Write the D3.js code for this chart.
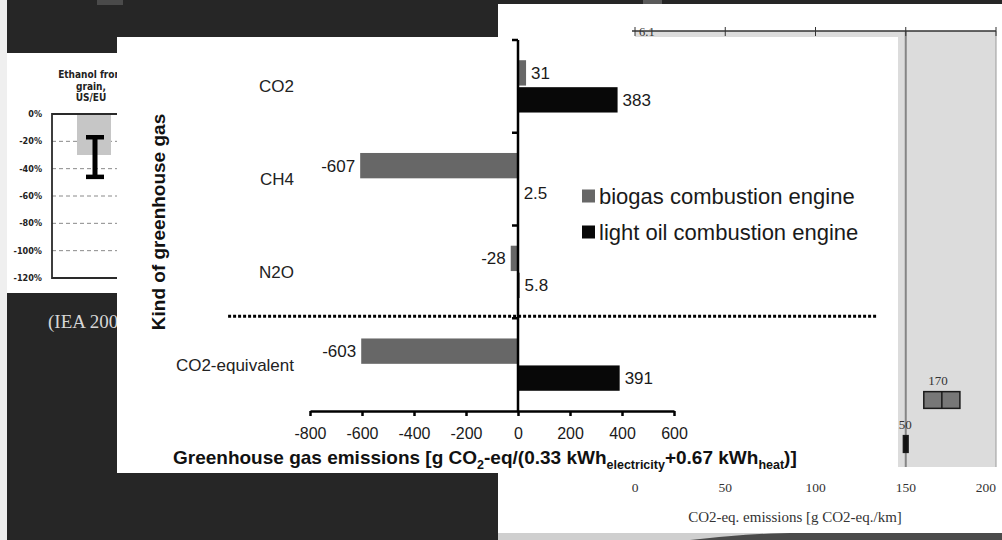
<!DOCTYPE html>
<html><head><meta charset="utf-8">
<script src="https://cdn.jsdelivr.net/npm/d3@7"></script>
<style>html,body{margin:0;padding:0;background:#262626;overflow:hidden}</style>
</head><body>
<svg id="c" width="1002" height="540"></svg>
<script>
// ---------- main chart data ----------
const categories = ["CO2", "CH4", "N2O", "CO2-equivalent"];
const seriesNames = ["biogas combustion engine", "light oil combustion engine"];
const biogasValues = [31, -607, -28, -603];
const lightOilValues = [383, 2.5, 5.8, 391];
const xTickValues = [-800, -600, -400, -200, 0, 200, 400, 600];
const seriesColors = ["#676767", "#080808"];
const separatorExtent = [-1115, 1385];

// ---------- left (IEA) panel data ----------
const ieaCategory = ["Ethanol from grain, US/EU"];
const ieaTitleLines = ["Ethanol from", "grain,", "US/EU"];
const ieaTickValues = [0, -20, -40, -60, -80, -100, -120];
const ieaBarValues = [-30];
const ieaRangeValues = [-17, -46];

// ---------- right panel data ----------
const rightTickValues = [0, 50, 100, 150, 200];
const rightRowIds = ["r1", "r2", "r3", "r4", "r5", "r6", "r7", "r8", "r9", "r10"];
const rightMarkRows = ["r9", "r10"];
const rightMarkLow = [160, 148.7];
const rightMarkHigh = [180, 151.3];
const rightMarkMid = [170, 150];
const rightMarkLabels = ["170", "150"];
const rightMarkFill = ["#777777", "#111111"];
const rightRefValue = [150];

const svg = d3.select("#c");
const SANS = "'Liberation Sans', Arial, sans-serif";
const SERIF = "'Liberation Serif', 'Times New Roman', serif";
const COND = "'DejaVu Sans Condensed', 'DejaVu Sans', sans-serif";

// ---------- background ----------
svg.append("rect").attr("width", 1002).attr("height", 540).attr("fill", "#262626");
svg.append("rect").attr("x", 0).attr("y", 0).attr("width", 7).attr("height", 540).attr("fill", "#efefef");
svg.append("rect").attr("x", 97).attr("y", 0).attr("width", 26).attr("height", 5).attr("fill", "#4a4a4a");
svg.append("rect").attr("x", 643).attr("y", 0).attr("width", 19).attr("height", 4).attr("fill", "#5a5a5a");
svg.append("text").attr("x", 48).attr("y", 328).attr("font-family", SERIF).attr("font-size", 19)
  .attr("fill", "#d6d6d6").text("(IEA 200");

// ---------- right panel ----------
const rp = svg.append("g");
rp.append("rect").attr("x", 498).attr("y", 4).attr("width", 504).attr("height", 536).attr("fill", "#ffffff");
rp.append("rect").attr("x", 498).attr("y", 533).attr("width", 504).attr("height", 7).attr("fill", "#cfcfcf");
rp.append("path").attr("d", "M690,540 C730,536 760,533 800,533 L1002,533 L1002,540 Z").attr("fill", "#4b4b4b");

const rx = d3.scaleLinear().domain([0, 200]).range([635, 996]);
const ry = d3.scaleBand().domain(rightRowIds).range([26, 466]).paddingInner(0.62).paddingOuter(0.31);

rp.append("rect").attr("x", rx(0)).attr("y", 31).attr("width", rx(200) - rx(0)).attr("height", 436).attr("fill", "#dcdcdc");
rp.append("line").attr("x1", rx(200)).attr("x2", rx(200)).attr("y1", 31).attr("y2", 467).attr("stroke", "#9a9a9a").attr("stroke-width", 1);
rp.selectAll("line.ref").data(rightRefValue).join("line").attr("class", "ref")
  .attr("x1", d => rx(d)).attr("x2", d => rx(d)).attr("y1", 31).attr("y2", 467)
  .attr("stroke", "#858585").attr("stroke-width", 2);
// top axis line
rp.append("line").attr("x1", rx(0) - 3).attr("x2", rx(200)).attr("y1", 31).attr("y2", 31).attr("stroke", "#333").attr("stroke-width", 1.3);
rp.selectAll("line.tt").data(rightTickValues).join("line").attr("class", "tt")
  .attr("x1", d => rx(d)).attr("x2", d => rx(d)).attr("y1", 27).attr("y2", 36).attr("stroke", "#333").attr("stroke-width", 1);
rp.append("text").attr("x", rx(0) + 4).attr("y", 36).attr("font-family", SERIF).attr("font-size", 12.5).attr("fill", "#333").text("6.1");
// marks
const rightMarks = rightMarkRows.map((r, i) => ({ r, lo: rightMarkLow[i], hi: rightMarkHigh[i], mid: rightMarkMid[i], label: rightMarkLabels[i], fill: rightMarkFill[i] }));
rp.selectAll("rect.rm").data(rightMarks).join("rect").attr("class", "rm")
  .attr("x", d => rx(d.lo)).attr("width", d => rx(d.hi) - rx(d.lo))
  .attr("y", d => ry(d.r)).attr("height", ry.bandwidth())
  .attr("fill", d => d.fill).attr("stroke", "#1a1a1a").attr("stroke-width", 1.5);
rp.selectAll("line.rmid").data(rightMarks.filter(d => d.hi - d.lo > 5)).join("line").attr("class", "rmid")
  .attr("x1", d => rx(d.mid)).attr("x2", d => rx(d.mid)).attr("y1", d => ry(d.r)).attr("y2", d => ry(d.r) + ry.bandwidth())
  .attr("stroke", "#1a1a1a").attr("stroke-width", 1.5);
rp.selectAll("text.rml").data(rightMarks).join("text").attr("class", "rml")
  .attr("x", d => rx(d.mid) + 6).attr("y", d => ry(d.r) - 7).attr("text-anchor", "end")
  .attr("font-family", SERIF).attr("font-size", 13).attr("fill", "#333").text(d => d.label);
// bottom tick labels
rp.selectAll("text.rt").data(rightTickValues).join("text").attr("class", "rt")
  .attr("x", d => rx(d)).attr("y", 492).attr("text-anchor", (d, i) => i === rightTickValues.length - 1 ? "end" : "middle")
  .attr("font-family", SERIF).attr("font-size", 13.5).attr("fill", "#333").text(d => d);
rp.append("text").attr("x", 795).attr("y", 522).attr("text-anchor", "middle")
  .attr("font-family", SERIF).attr("font-size", 15).attr("fill", "#333").text("CO2-eq. emissions [g CO2-eq./km]");

// ---------- left (IEA) panel ----------
const lp = svg.append("g");
lp.append("rect").attr("x", 7).attr("y", 53).attr("width", 200).attr("height", 240).attr("fill", "#ffffff");
const ly = d3.scaleLinear().domain([0, -120]).range([114, 278]);
const lx = d3.scaleBand().domain(ieaCategory).range([52, 136]).paddingOuter(0.735);
lp.selectAll("line.lg").data(ieaTickValues.slice(1, -1)).join("line").attr("class", "lg")
  .attr("x1", 52).attr("x2", 140).attr("y1", d => ly(d)).attr("y2", d => ly(d))
  .attr("stroke", "#8a8a8a").attr("stroke-width", 1).attr("stroke-dasharray", "4,3");
lp.selectAll("rect.lb").data(ieaBarValues).join("rect").attr("class", "lb")
  .attr("x", lx(ieaCategory[0])).attr("width", lx.bandwidth())
  .attr("y", ly(0)).attr("height", d => ly(d) - ly(0)).attr("fill", "#c6c6c6");
const ecx = lx(ieaCategory[0]) + lx.bandwidth() / 2 + 1;
lp.append("line").attr("x1", ecx).attr("x2", ecx).attr("y1", ly(ieaRangeValues[0])).attr("y2", ly(ieaRangeValues[1]))
  .attr("stroke", "#000").attr("stroke-width", 5);
lp.selectAll("line.cap").data(ieaRangeValues).join("line").attr("class", "cap")
  .attr("x1", ecx - 9).attr("x2", ecx + 9).attr("y1", d => ly(d)).attr("y2", d => ly(d))
  .attr("stroke", "#000").attr("stroke-width", 4.5);
lp.append("path").attr("d", `M140,${ly(0)} H52 V${ly(-120)} H140`).attr("fill", "none").attr("stroke", "#2a2a2a").attr("stroke-width", 1.8);
lp.selectAll("text.lt").data(ieaTickValues).join("text").attr("class", "lt")
  .attr("x", 42).attr("y", d => ly(d)).attr("dy", "0.35em").attr("text-anchor", "end")
  .attr("font-family", COND).attr("font-weight", "bold").attr("font-size", 9).attr("fill", "#222")
  .text(d => d + "%");
lp.selectAll("text.lh").data(ieaTitleLines).join("text").attr("class", "lh")
  .attr("x", lx(ieaCategory[0]) + lx.bandwidth() / 2 - 3).attr("y", (d, i) => 78 + i * 11.5).attr("text-anchor", "middle")
  .attr("font-family", COND).attr("font-weight", "bold").attr("font-size", 10).attr("fill", "#222").text(d => d);

// ---------- main panel ----------
const mp = svg.append("g");
mp.append("rect").attr("x", 117).attr("y", 37).attr("width", 781).attr("height", 436).attr("fill", "#ffffff");

const x = d3.scaleLinear().domain([-800, 600]).range([310, 674]);
const y = d3.scaleBand().domain(categories).range([40, 411]);
const ys = d3.scaleBand().domain(seriesNames).range([0, y.bandwidth()]).paddingInner(0.06).paddingOuter(0.75);

const bars = [];
categories.forEach((c, i) => {
  bars.push({ c, s: seriesNames[0], j: 0, v: biogasValues[i] });
  bars.push({ c, s: seriesNames[1], j: 1, v: lightOilValues[i] });
});

// separator (dotted)
mp.append("line").attr("x1", x(separatorExtent[0])).attr("x2", x(separatorExtent[1]))
  .attr("y1", y(categories[3]) - 2).attr("y2", y(categories[3]) - 2)
  .attr("stroke", "#000").attr("stroke-width", 3).attr("stroke-dasharray", "3,2");

mp.selectAll("rect.bar").data(bars).join("rect").attr("class", "bar")
  .attr("x", d => x(Math.min(0, d.v))).attr("width", d => Math.abs(x(d.v) - x(0)))
  .attr("y", d => y(d.c) + ys(d.s)).attr("height", ys.bandwidth())
  .attr("fill", d => seriesColors[d.j]);

mp.selectAll("text.val").data(bars).join("text").attr("class", "val")
  .attr("x", d => d.v < 0 ? x(d.v) - 5 : x(d.v) + 5)
  .attr("y", d => y(d.c) + ys(d.s) + ys.bandwidth() / 2).attr("dy", "0.35em")
  .attr("text-anchor", d => d.v < 0 ? "end" : "start")
  .attr("font-family", SANS).attr("font-size", 17).attr("fill", "#1a1a1a").text(d => String(d.v));

// y axis
mp.append("line").attr("x1", x(0)).attr("x2", x(0)).attr("y1", y.range()[0]).attr("y2", y.range()[1])
  .attr("stroke", "#000").attr("stroke-width", 2.5);
mp.selectAll("line.yt").data(categories).join("line").attr("class", "yt")
  .attr("x1", x(0) - 6).attr("x2", x(0)).attr("y1", d => y(d)).attr("y2", d => y(d))
  .attr("stroke", "#000").attr("stroke-width", 2.5);
mp.selectAll("text.cat").data(categories).join("text").attr("class", "cat")
  .attr("x", 294).attr("y", d => y(d) + y.bandwidth() / 2).attr("dy", "0.35em").attr("text-anchor", "end")
  .attr("font-family", SANS).attr("font-size", 17).attr("fill", "#222").text(d => d);

// x axis
const xa = mp.append("g").attr("transform", `translate(0,${y.range()[1]})`)
  .call(d3.axisBottom(x).tickValues(xTickValues).tickSize(5).tickSizeOuter(0).tickPadding(12).tickFormat(d3.format("d")));
xa.select(".domain").attr("stroke", "#000").attr("stroke-width", 2.5);
xa.selectAll(".tick line").attr("stroke", "#000").attr("stroke-width", 2.5);
xa.selectAll(".tick text").attr("font-family", SANS).attr("font-size", 16).attr("fill", "#1a1a1a");
xa.selectAll(".tick text").text(d => String(d));

// axis titles
mp.append("text").attr("transform", "translate(158,222) rotate(-90)").attr("text-anchor", "middle").attr("dy", "0.35em")
  .attr("font-family", SANS).attr("font-weight", "bold").attr("font-size", 19).attr("fill", "#111")
  .text("Kind of greenhouse gas");
const xt = mp.append("text").attr("x", 173).attr("y", 464)
  .attr("font-family", SANS).attr("font-weight", "bold").attr("font-size", 19).attr("fill", "#111");
const titleParts = [
  ["Greenhouse gas emissions [g CO", false], ["2", true], ["-eq/(0.33 kWh", false],
  ["electricity", true], ["+0.67 kWh", false], ["heat", true], [")]", false]
];
titleParts.forEach((p, i) => {
  const t = xt.append("tspan").text(p[0]);
  if (p[1]) t.attr("font-size", 12.5).attr("dy", 5);
  else if (i > 0) t.attr("dy", -5);
});

// legend
const lg = mp.append("g");
seriesNames.forEach((s, i) => {
  lg.append("rect").attr("x", 582).attr("y", 189.5 + i * 36).attr("width", 13).attr("height", 13).attr("fill", seriesColors[i]);
  lg.append("text").attr("x", 599).attr("y", 196 + i * 36).attr("dy", "0.35em")
    .attr("font-family", SANS).attr("font-size", 22).attr("fill", "#1a1a1a").text(s);
});
</script>
</body></html>
